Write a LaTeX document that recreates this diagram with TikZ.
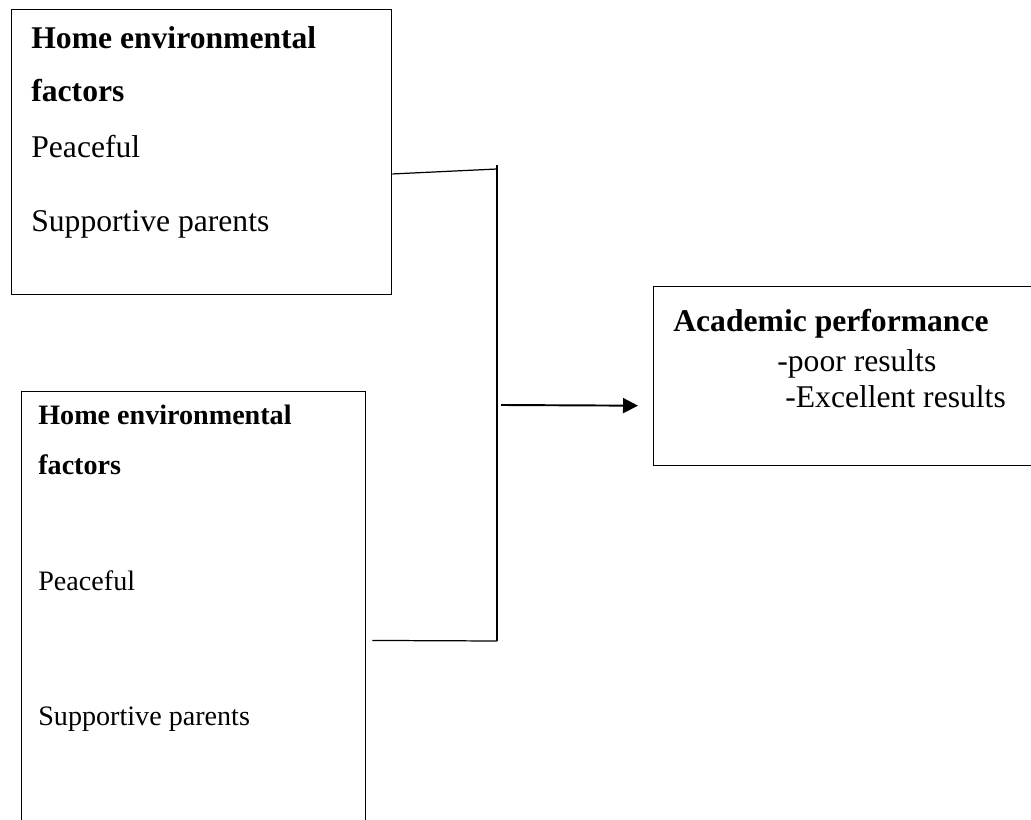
\documentclass[tikz,border=0pt]{standalone}
\usepackage{fontspec}
\setmainfont{Liberation Serif}
\usetikzlibrary{arrows.meta}

\begin{document}
\begin{tikzpicture}[x=0.02cm,y=-0.02cm,
  box/.style={draw, line width=0.8pt, inner sep=0pt, anchor=north west},
  big/.style={anchor=base west, inner sep=0pt, font=\fontsize{18}{20}\selectfont},
  small/.style={anchor=base west, inner sep=0pt, font=\fontsize{16}{18}\selectfont},
  link/.style={line width=0.7pt}]
\clip (0,0) rectangle (1031,820);
\node [box, minimum width=7.6cm, minimum height=5.7cm] (home) at (11,9) {};
\node [box, minimum width=6.88cm, minimum height=9cm] (homeb) at (21,391) {};
\node [box, minimum width=8cm, minimum height=3.58cm] (acad) at (653,286) {};
\node [big] (hometitle) at (31,49) {\textbf{Home environmental}};
\node [big] (homefact) at (31,102) {\textbf{factors}};
\node [big] (homepeace) at (31,158) {Peaceful};
\node [big] (homesupp) at (31,232) {Supportive parents};
\node [small] (homebtitle) at (38,425) {\textbf{Home environmental}};
\node [small] (homebfact) at (38,475) {\textbf{factors}};
\node [small] (homebpeace) at (38,590) {Peaceful};
\node [small] (homebsupp) at (38,725) {Supportive parents};
\node [big] (acadtitle) at (673,332) {\textbf{Academic performance}};
\node [big] (acadpoor) at (777,372) {-poor results};
\node [big] (acadexc) at (785,408) {-Excellent results};
\coordinate (brtop) at (497,165);
\coordinate (brbot) at (497,641);
\coordinate (brmid) at (501,405);
\draw [link] (brtop) -- (brbot);
\draw [link] ([yshift=-3.3cm]home.north east) -- (497,169);
\draw [link] ([shift={(0.12cm,-4.99cm)}]homeb.north east) -- (brbot);
\draw [line width=1.1pt, -{Triangle[length=0.3cm,width=0.3cm]}] (brmid) -- ([shift={(-0.3cm,-0.59cm)}]acad.west);
\end{tikzpicture}
\end{document}
